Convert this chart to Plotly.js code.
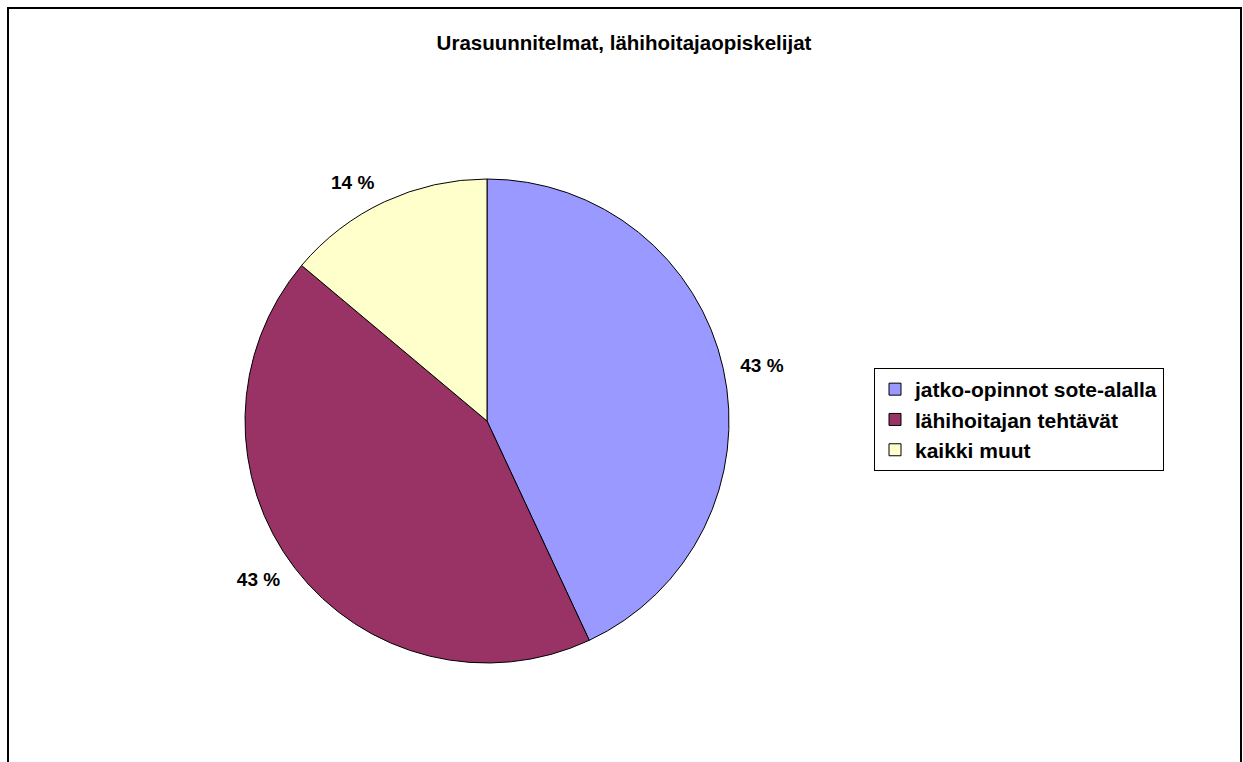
<!DOCTYPE html>
<html>
<head>
<meta charset="utf-8">
<script src="https://cdn.plot.ly/plotly-3.0.1.min.js"></script>
<style>
html,body{margin:0;padding:0;overflow:hidden;background:#fff;}
#chart{position:absolute;left:0;top:0;width:1243px;height:762px;}
#frame{position:absolute;left:7px;top:7px;width:1231px;height:800px;border:2px solid #000;pointer-events:none;}
</style>
</head>
<body>
<div id="chart"></div>
<div id="frame"></div>
<script>
// Data
const categories = ["jatko-opinnot sote-alalla", "lähihoitajan tehtävät", "kaikki muut"];
const values = [31, 31, 10];
const colors = ["#9999FF", "#993366", "#FFFFCC"];
const chartTitle = "Urasuunnitelmat, lähihoitajaopiskelijat";

const total = values.reduce((a, b) => a + b, 0);
const pctText = values.map(v => Math.round(v / total * 100) + " %");

const W = 1243, H = 762;
const cx = 487, cy = 421, r = 242, rl = 254;
const FONT = "Liberation Sans, Arial, sans-serif";

function dom(rad) {
  return {x: [(cx - rad) / W, (cx + rad) / W], y: [1 - (cy + rad) / H, 1 - (cy - rad) / H]};
}

// visible pie
const pie = {
  type: "pie",
  labels: categories,
  values: values,
  textinfo: "none",
  sort: false,
  direction: "clockwise",
  rotation: 0,
  marker: {colors: colors, line: {color: "#000", width: 1}},
  domain: dom(r),
  hoverinfo: "label+value+percent"
};

// label carrier (same data, transparent) to place percentage labels a bit outside
const labelPie = {
  type: "pie",
  labels: categories,
  values: values,
  text: pctText,
  texttemplate: "%{text}",
  textinfo: "text",
  textposition: "outside",
  outsidetextfont: {family: FONT, size: 19, color: "#000", weight: "bold"},
  sort: false,
  direction: "clockwise",
  rotation: 0,
  marker: {colors: ["rgba(0,0,0,0)", "rgba(0,0,0,0)", "rgba(0,0,0,0)"], line: {width: 0}},
  domain: dom(rl),
  showlegend: false,
  hoverinfo: "skip"
};

const layout = {
  width: W, height: H,
  margin: {l: 0, r: 0, t: 0, b: 0},
  paper_bgcolor: "#fff",
  font: {family: FONT, color: "#000"},
  title: {
    text: chartTitle,
    x: 624 / W, xanchor: "center", xref: "container",
    y: 1 - 43 / H, yanchor: "middle", yref: "container",
    font: {family: FONT, size: 20.5, color: "#000", weight: "bold"}
  },
  showlegend: true,
  legend: {
    x: 874 / W, xanchor: "left",
    y: 1 - 368 / H, yanchor: "top",
    bordercolor: "#000", borderwidth: 1,
    bgcolor: "#fff",
    font: {family: FONT, size: 21, color: "#000", weight: "bold"},
    traceorder: "normal"
  }
};

Plotly.newPlot("chart", [pie, labelPie], layout, {displayModeBar: false, staticPlot: true});
</script>
</body>
</html>
